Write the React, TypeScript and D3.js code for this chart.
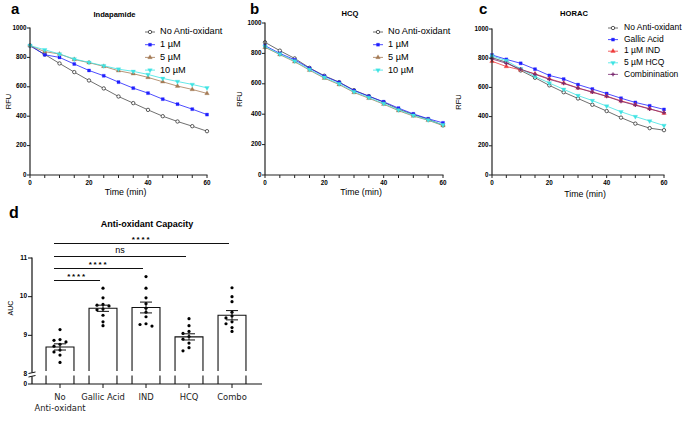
import React from 'react';
import * as d3 from 'd3';

const times = [0, 5, 10, 15, 20, 25, 30, 35, 40, 45, 50, 55, 60];

// Panel a – Indapamide
const indNoAnti = [880, 820, 759, 700, 643, 589, 534, 489, 443, 400, 364, 332, 298];
const ind1uM = [880, 818, 800, 755, 711, 675, 632, 591, 557, 516, 482, 448, 411];
const ind5uM = [880, 839, 823, 786, 764, 739, 709, 689, 664, 634, 605, 582, 555];
const ind10uM = [880, 852, 823, 789, 766, 743, 720, 705, 684, 657, 636, 616, 593];

// Panel b – HCQ
const hcqNoAnti = [873, 818, 767, 705, 653, 611, 558, 519, 479, 433, 398, 367, 327];
const hcq1uM = [851, 800, 758, 702, 650, 609, 556, 518, 482, 440, 402, 370, 343];
const hcq5uM = [840, 792, 745, 690, 637, 595, 543, 505, 466, 423, 388, 360, 325];
const hcq10uM = [845, 795, 750, 694, 642, 600, 548, 510, 470, 428, 392, 362, 330];

// Panel c – HORAC
const horNoAnti = [804, 772, 716, 666, 614, 567, 524, 481, 438, 393, 352, 321, 307];
const horGallic = [822, 792, 765, 725, 682, 657, 619, 589, 558, 526, 497, 474, 449];
const horInd = [779, 743, 720, 693, 659, 630, 596, 569, 540, 508, 481, 454, 424];
const horHcq = [815, 783, 727, 675, 630, 587, 544, 510, 472, 433, 400, 370, 339];
const horCombo = [795, 765, 725, 690, 655, 627, 595, 567, 538, 505, 478, 452, 428];

const yTicksRFU = [0, 200, 400, 600, 800, 1000];
const xTickLabels = [0, 20, 40, 60];

// Panel d – AUC
const aucCategories = ['No\nAnti-oxidant', 'Gallic Acid', 'IND', 'HCQ', 'Combo'];
const aucMeans = [8.7, 9.7, 9.72, 8.96, 9.52];
const aucSem = [0.08, 0.08, 0.14, 0.08, 0.12];
const aucPoints = [
  [9.15, 8.89, 8.87, 8.83, 8.77, 8.72, 8.62, 8.57, 8.49, 8.3],
  [10.22, 9.97, 9.8, 9.78, 9.76, 9.68, 9.66, 9.52, 9.35, 9.25],
  [10.52, 10.22, 9.97, 9.82, 9.7, 9.6, 9.48, 9.3, 9.28, 9.24],
  [9.43, 9.25, 9.1, 9.05, 8.97, 8.9, 8.8, 8.68, 8.6],
  [10.23, 10.0, 9.87, 9.6, 9.5, 9.45, 9.35, 9.3, 9.2, 9.1],
];
const aucTicks = [8, 9, 10, 11];
const sigComparisons = [
  { target: 1, label: '****' },
  { target: 2, label: '****' },
  { target: 3, label: 'ns' },
  { target: 4, label: '****' },
];

const C = {
  gray: '#4a4a4a',
  blue: '#1f1fff',
  brown: '#a47a55',
  cyan: '#3fe3e3',
  red: '#ee3a3a',
  purple: '#7a2a70',
};

type Shape = 'circle' | 'square' | 'triUp' | 'triDown' | 'plus';
type Series = { name: string; values: number[]; color: string; shape: Shape };

const Marker = ({ x, y, shape, color }: { x: number; y: number; shape: Shape; color: string }) => {
  if (shape === 'circle')
    return <circle cx={x} cy={y} r={1.7} fill="white" stroke="#333" strokeWidth={0.8} />;
  const t =
    shape === 'square' ? d3.symbolSquare : shape === 'plus' ? d3.symbolCross : d3.symbolTriangle;
  const size = shape === 'square' ? 9 : shape === 'plus' ? 8 : 9;
  const p = d3.symbol().type(t).size(size)() as string;
  return (
    <path
      d={p}
      transform={`translate(${x},${y})${shape === 'triDown' ? ' rotate(180)' : ''}`}
      fill={color}
      stroke={shape === 'plus' ? 'none' : color}
      strokeWidth={0.3}
    />
  );
};

type PanelProps = {
  x0: number; x1: number; yTop: number; yBottom: number;
  title: string; titleY: number;
  letter: string; letterX: number; letterY: number;
  series: Series[];
  legX: number; legTextX: number; legY0: number; legDy: number; legFont: number;
  rfuX: number; timeY: number;
};

const LinePanel = (p: PanelProps) => {
  const x = d3.scaleLinear().domain([0, 60]).range([p.x0, p.x1]);
  const y = d3.scaleLinear().domain([0, 1000]).range([p.yBottom, p.yTop]);
  const line = d3.line<number>().x((_, i) => x(times[i])).y((v) => y(v));
  const font = 'Liberation Sans, Arial, sans-serif';
  const cx = (p.x0 + p.x1) / 2;
  return (
    <g fontFamily={font}>
      <text x={p.letterX} y={p.letterY} fontSize={15} fontWeight="bold">{p.letter}</text>
      <text x={cx - 4} y={p.titleY} fontSize={7.6} fontWeight="bold" textAnchor="middle" dominantBaseline="middle">{p.title}</text>
      {p.series.map((s) => (
        <g key={s.name}>
          <path d={line(s.values) as string} fill="none" stroke={s.color} strokeWidth={0.8} />
          {s.values.map((v, i) => (
            <Marker key={i} x={x(times[i])} y={y(v)} shape={s.shape} color={s.color} />
          ))}
        </g>
      ))}
      {/* axes */}
      <line x1={p.x0} x2={p.x0} y1={p.yTop - 0.5} y2={p.yBottom} stroke="#222" strokeWidth={1.2} />
      <line x1={p.x0} x2={p.x1 + 0.5} y1={p.yBottom} y2={p.yBottom} stroke="#222" strokeWidth={1.2} />
      {yTicksRFU.map((t) => (
        <g key={t}>
          <line x1={p.x0 - 3} x2={p.x0} y1={y(t)} y2={y(t)} stroke="#222" strokeWidth={1} />
          <text x={p.x0 - 3.5} y={y(t)} fontSize={6.3} fontWeight="bold" textAnchor="end" dominantBaseline="middle">{t}</text>
        </g>
      ))}
      {times.map((t) => (
        <line key={t} x1={x(t)} x2={x(t)} y1={p.yBottom} y2={p.yBottom + 3} stroke="#222" strokeWidth={1} />
      ))}
      {xTickLabels.map((t) => (
        <text key={t} x={x(t)} y={p.yBottom + 8.5} fontSize={6.3} fontWeight="bold" textAnchor="middle" dominantBaseline="middle">{t}</text>
      ))}
      <text x={cx + 7} y={p.timeY} fontSize={8.8} textAnchor="middle" dominantBaseline="middle">Time (min)</text>
      <text transform={`translate(${p.rfuX},${(p.yTop + p.yBottom) / 2}) rotate(-90)`} fontSize={7.5} textAnchor="middle" dominantBaseline="middle">RFU</text>
      {/* legend */}
      {p.series.map((s, i) => {
        const ly = p.legY0 + i * p.legDy;
        return (
          <g key={s.name}>
            <line x1={p.legX - 5} x2={p.legX + 5} y1={ly} y2={ly} stroke={s.color} strokeWidth={0.8} />
            <Marker x={p.legX} y={ly} shape={s.shape} color={s.color} />
            <text x={p.legTextX} y={ly} fontSize={p.legFont} dominantBaseline="middle">{s.name}</text>
          </g>
        );
      })}
    </g>
  );
};

const BarPanel = () => {
  const x = d3.scaleBand<number>()
    .domain(aucCategories.map((_, i) => i))
    .range([38.5, 253.5])
    .paddingInner(0.35)
    .paddingOuter(0.175);
  const y = d3.scaleLinear().domain([8, 11]).range([374, 258]);
  const yZero = 384;
  const axisX = 32;
  const font = 'Liberation Sans, Arial, sans-serif';
  const center = (i: number) => (x(i) as number) + x.bandwidth() / 2;
  const sigY = [280.5, 268.5, 256.5, 243.5];

  // simple beeswarm offsets
  const swarm = (vals: number[]) => {
    const placed: { dx: number; py: number }[] = [];
    return vals.map((v) => {
      const py = y(v);
      const cands = [0, -6, 6, -12, 12];
      let dx = 0;
      for (const c of cands) {
        if (!placed.some((q) => Math.abs(q.py - py) < 3.6 && Math.abs(q.dx - c) < 4.5)) { dx = c; break; }
      }
      placed.push({ dx, py });
      return { dx, py };
    });
  };

  return (
    <g fontFamily={font}>
      <text x={9} y={218} fontSize={16} fontWeight="bold">d</text>
      <text x={147} y={225} fontSize={9} fontWeight="bold" textAnchor="middle" dominantBaseline="middle">Anti-oxidant Capacity</text>
      {/* bars */}
      {aucMeans.map((m, i) => {
        const bx = x(i) as number;
        const bw = x.bandwidth();
        const top = y(m);
        return (
          <g key={i}>
            <path d={`M${bx},371 V${top} H${bx + bw} V371`} fill="white" stroke="#111" strokeWidth={1.1} />
            <line x1={bx} x2={bx} y1={375.5} y2={yZero} stroke="#111" strokeWidth={1.1} />
            <line x1={bx + bw} x2={bx + bw} y1={375.5} y2={yZero} stroke="#111" strokeWidth={1.1} />
          </g>
        );
      })}
      {/* points */}
      {aucPoints.map((vals, i) =>
        swarm(vals).map((pt, j) => (
          <circle key={`${i}-${j}`} cx={center(i) + pt.dx} cy={pt.py} r={1.6} fill="#000" />
        ))
      )}
      {/* error bars */}
      {aucMeans.map((m, i) => {
        const c = center(i);
        return (
          <g key={i} stroke="#111" strokeWidth={1}>
            <line x1={c} x2={c} y1={y(m - aucSem[i])} y2={y(m + aucSem[i])} />
            <line x1={c - 6} x2={c + 6} y1={y(m - aucSem[i])} y2={y(m - aucSem[i])} />
            <line x1={c - 6} x2={c + 6} y1={y(m + aucSem[i])} y2={y(m + aucSem[i])} />
          </g>
        );
      })}
      {/* axes */}
      <line x1={axisX} x2={axisX} y1={257.5} y2={372.5} stroke="#111" strokeWidth={1.2} />
      <line x1={axisX} x2={axisX} y1={376.5} y2={yZero} stroke="#111" strokeWidth={1.2} />
      <line x1={axisX - 3.5} x2={axisX + 3.5} y1={373.5} y2={372} stroke="#111" strokeWidth={1} />
      <line x1={axisX - 3.5} x2={axisX + 3.5} y1={377} y2={375.5} stroke="#111" strokeWidth={1} />
      <line x1={axisX} x2={262} y1={yZero} y2={yZero} stroke="#111" strokeWidth={1.2} />
      {aucTicks.map((t) => (
        <g key={t}>
          {t !== 8 && <line x1={axisX - 4} x2={axisX} y1={y(t)} y2={y(t)} stroke="#111" strokeWidth={1} />}
          <text x={axisX - 5} y={y(t)} fontSize={6.5} fontWeight="bold" textAnchor="end" dominantBaseline="middle">{t}</text>
        </g>
      ))}
      <line x1={axisX - 4} x2={axisX} y1={yZero} y2={yZero} stroke="#111" strokeWidth={1} />
      <text x={axisX - 5} y={yZero} fontSize={6.5} fontWeight="bold" textAnchor="end" dominantBaseline="middle">0</text>
      <text transform={`translate(11,308) rotate(-90)`} fontSize={7} textAnchor="middle" dominantBaseline="middle">AUC</text>
      {aucCategories.map((c, i) => (
        <g key={i}>
          <line x1={center(i)} x2={center(i)} y1={yZero} y2={yZero + 4} stroke="#111" strokeWidth={1} />
          {c.split('\n').map((ln, k) => (
            <text key={k} x={center(i)} y={397 + k * 11.5} fontSize={8.4} fontFamily="DejaVu Sans, Verdana, sans-serif" textAnchor="middle" dominantBaseline="middle" fill="#222">{ln}</text>
          ))}
        </g>
      ))}
      {/* significance */}
      {sigComparisons.map((s, k) => {
        const x1 = center(0) - 6;
        const x2 = center(s.target) - 3;
        const ly = sigY[k];
        return (
          <g key={k}>
            <line x1={x1} x2={x2} y1={ly} y2={ly} stroke="#111" strokeWidth={1.2} />
            <text x={(x1 + x2) / 2} y={s.label === 'ns' ? ly - 5.5 : ly - 3.5} fontSize={s.label === 'ns' ? 9 : 8} fontWeight={s.label === 'ns' ? 'normal' : 'bold'} letterSpacing={s.label === 'ns' ? 0 : 1.8} textAnchor="middle" dominantBaseline="middle">{s.label}</text>
          </g>
        );
      })}
    </g>
  );
};

export default function App() {
  const seriesA: Series[] = [
    { name: 'No Anti-oxidant', values: indNoAnti, color: C.gray, shape: 'circle' },
    { name: '1 µM', values: ind1uM, color: C.blue, shape: 'square' },
    { name: '5 µM', values: ind5uM, color: C.brown, shape: 'triUp' },
    { name: '10 µM', values: ind10uM, color: C.cyan, shape: 'triDown' },
  ];
  const seriesB: Series[] = [
    { name: 'No Anti-oxidant', values: hcqNoAnti, color: C.gray, shape: 'circle' },
    { name: '1 µM', values: hcq1uM, color: C.blue, shape: 'square' },
    { name: '5 µM', values: hcq5uM, color: C.brown, shape: 'triUp' },
    { name: '10 µM', values: hcq10uM, color: C.cyan, shape: 'triDown' },
  ];
  const seriesC: Series[] = [
    { name: 'No Anti-oxidant', values: horNoAnti, color: C.gray, shape: 'circle' },
    { name: 'Gallic Acid', values: horGallic, color: C.blue, shape: 'square' },
    { name: '1 µM IND', values: horInd, color: C.red, shape: 'triUp' },
    { name: '5 µM HCQ', values: horHcq, color: C.cyan, shape: 'triDown' },
    { name: 'Combinination', values: horCombo, color: C.purple, shape: 'plus' },
  ];
  return (
    <svg width={684} height={421} style={{ position: 'absolute', left: 0, top: 0, background: 'white' }}>
      <rect width={684} height={421} fill="white" />
      <LinePanel x0={30} x1={207} yTop={28} yBottom={175} title="Indapamide" titleY={15}
        letter="a" letterX={11} letterY={14} series={seriesA}
        legX={150} legTextX={160} legY0={32} legDy={12.7} legFont={9.2} rfuX={9} timeY={193} />
      <LinePanel x0={265} x1={443} yTop={23} yBottom={175} title="HCQ" titleY={14}
        letter="b" letterX={250} letterY={14} series={seriesB}
        legX={378} legTextX={388} legY0={32} legDy={12.7} legFont={9.2} rfuX={240} timeY={193} />
      <LinePanel x0={492} x1={664} yTop={29} yBottom={175} title="HORAC" titleY={14}
        letter="c" letterX={479} letterY={14} series={seriesC}
        legX={613} legTextX={624} legY0={28} legDy={11.6} legFont={8.5} rfuX={459} timeY={195} />
      <BarPanel />
    </svg>
  );
}
